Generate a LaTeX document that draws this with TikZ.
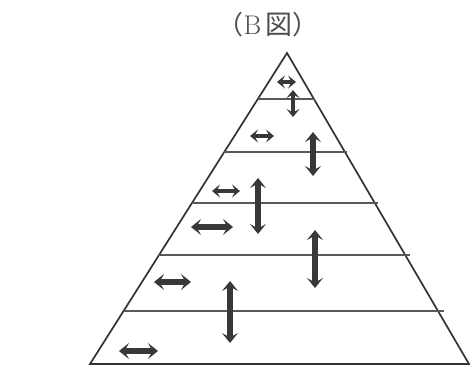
\documentclass[tikz,border=0pt]{standalone}
\usepackage{fontspec}
\newfontfamily\cjk{Noto Sans CJK JP}
\usetikzlibrary{arrows.meta}
\tikzset{
  edge/.style={line width=1.7pt, draw=black!80},
  layer/.style={line width=1.6pt, draw=black!65},
  dbl/.style={line width=5.6pt, draw=black!78, {Stealth[length=10pt,width=16pt,inset=4.5pt]}-{Stealth[length=10pt,width=16pt,inset=4.5pt]}},
  dbls/.style={line width=4.6pt, draw=black!78, {Stealth[length=8pt,width=13pt,inset=3.5pt]}-{Stealth[length=8pt,width=13pt,inset=3.5pt]}}
}
\begin{document}
\begin{tikzpicture}[x=1pt,y=-1pt]
\useasboundingbox (0,0) rectangle (470,369);
\node[text=black!70, inner sep=0pt] (title) at (268,25)
  {{\fontsize{26}{28}\selectfont\cjk （}{\fontsize{27}{28}\selectfont\rmfamily B}\hspace{4pt}{\fontsize{27}{28}\selectfont\cjk 図}{\fontsize{26}{28}\selectfont\cjk ）}};
% corners
\coordinate (A) at (287,53);
\coordinate (L) at (90,364);
\coordinate (R) at (469,364);
\draw[edge] (L) -- (A) -- (R) -- cycle;
% layer lines
\foreach \y in {99,152,203,255,311}{
  \pgfmathsetmacro\xl{287-0.6334*(\y-53)}
  \pgfmathsetmacro\xr{287+0.6077*(\y-53)}
  \draw[layer] (\xl,\y) -- (\xr,\y);
}
% horizontal arrows
\draw[dbls] (277,82) -- (296,82);
\draw[dbls] (250,136) -- (274,136);
\draw[dbls] (212,191) -- (240,191);
\draw[dbl] (191,227) -- (233,227);
\draw[dbl] (154,282) -- (191,282);
\draw[dbl] (119,351) -- (158,351);
% vertical arrows
\draw[dbls] (293,90) -- (293,117);
\draw[dbl] (313,132) -- (313,176);
\draw[dbl] (258,178) -- (258,234);
\draw[dbl] (315,230) -- (315,288);
\draw[dbl] (230,281) -- (230,343);
\end{tikzpicture}
\end{document}
